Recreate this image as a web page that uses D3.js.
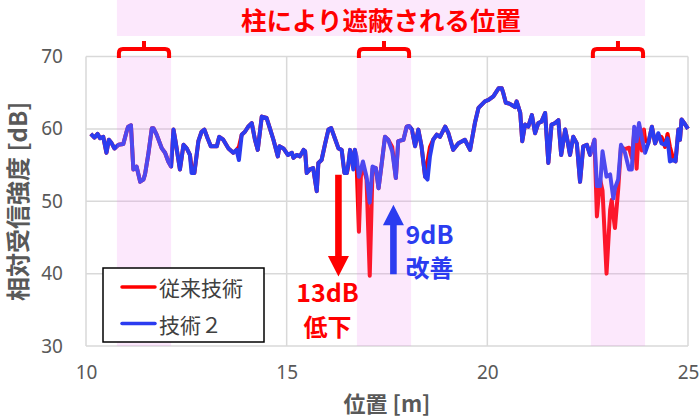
<!DOCTYPE html>
<html><head><meta charset="utf-8">
<script src="https://cdn.jsdelivr.net/npm/d3@7"></script>
<style>
html,body{margin:0;padding:0;background:#fff;}
svg{display:block;font-family:"Noto Sans CJK JP","Noto Sans",sans-serif;}
</style></head>
<body><svg id="c" width="700" height="417"></svg>
<script>
// ---- data ----
const positions = [10.12,10.21,10.29,10.35,10.43,10.51,10.57,10.64,10.71,10.81,10.93,11.01,11.05,11.12,11.18,11.26,11.35,11.43,11.47,11.55,11.64,11.68,11.76,11.89,11.97,12.05,12.12,12.18,12.23,12.34,12.43,12.51,12.59,12.63,12.70,12.80,12.88,12.95,13.03,13.11,13.26,13.32,13.42,13.55,13.67,13.75,13.81,13.88,13.96,14.04,14.13,14.21,14.28,14.38,14.50,14.58,14.67,14.78,14.82,14.92,15.03,15.13,15.17,15.25,15.33,15.42,15.46,15.50,15.58,15.66,15.75,15.79,15.87,15.96,16.04,16.11,16.20,16.29,16.37,16.44,16.50,16.54,16.58,16.62,16.66,16.70,16.74,16.80,16.85,16.90,16.99,17.07,17.14,17.22,17.29,17.37,17.45,17.53,17.63,17.72,17.78,17.91,17.99,18.05,18.12,18.20,18.28,18.36,18.45,18.51,18.57,18.65,18.74,18.82,18.95,19.03,19.15,19.28,19.44,19.57,19.69,19.78,19.94,20.03,20.15,20.28,20.36,20.40,20.46,20.54,20.61,20.69,20.73,20.77,20.82,20.87,20.94,21.02,21.11,21.19,21.27,21.35,21.44,21.52,21.60,21.69,21.77,21.84,21.94,22.00,22.06,22.14,22.23,22.31,22.39,22.48,22.56,22.67,22.73,22.81,22.87,22.97,23.06,23.10,23.14,23.18,23.26,23.33,23.43,23.53,23.60,23.66,23.72,23.78,23.85,23.90,23.93,24.01,24.10,24.18,24.26,24.34,24.43,24.49,24.55,24.64,24.69,24.76,24.80,24.84,24.93,25.00];
const tech2 = [59.3,58.8,59.3,58.7,58.9,56.7,58.5,58.0,57.3,57.8,57.9,59.6,60.3,60.5,54.4,54.8,52.7,53.0,53.7,56.4,60.1,60.1,59.2,57.3,56.7,55.5,54.8,59.9,58.3,54.4,57.8,57.3,56.4,53.9,53.9,58.3,59.6,59.9,58.7,57.6,57.6,58.9,58.5,57.3,56.7,57.1,55.7,59.2,59.6,60.3,60.8,58.5,57.1,61.7,61.5,60.1,58.5,56.2,57.6,57.3,56.4,56.7,56.0,56.4,56.2,57.1,56.9,53.9,54.4,54.6,51.4,55.3,55.7,58.0,59.9,60.1,58.7,57.3,57.1,53.9,53.9,55.3,57.1,56.2,54.4,57.1,56.2,53.4,54.4,55.5,53.4,49.8,54.8,54.6,51.8,55.3,58.9,58.5,56.9,53.2,58.3,58.5,60.3,60.4,59.9,57.6,59.9,57.6,53.4,53.0,56.2,58.5,59.2,58.9,60.3,59.4,57.1,58.0,58.5,57.1,60.8,62.9,63.8,64.0,64.5,65.6,65.6,64.9,63.6,63.5,63.3,63.0,63.8,63.1,62.2,58.3,60.6,60.3,61.9,59.4,60.8,61.0,62.2,55.3,60.6,60.8,61.2,56.4,59.9,58.3,56.4,58.9,58.0,52.7,57.6,57.8,56.4,58.5,52.1,52.1,56.9,53.4,53.7,52.0,50.4,51.8,53.0,57.8,56.7,54.4,54.4,60.3,58.3,60.8,58.7,57.5,56.7,58.0,60.3,58.0,59.4,58.0,57.8,58.7,55.5,55.7,55.5,59.9,58.5,61.3,60.6,60.0];
const conventional = [59.3,58.8,59.3,58.7,58.9,56.7,58.5,58.0,57.3,57.8,57.9,59.6,60.3,60.5,54.4,54.8,52.7,53.0,53.7,56.4,60.1,60.1,59.2,57.3,56.7,55.5,54.8,59.9,58.3,54.4,57.8,57.3,56.4,54.8,53.9,58.3,59.6,59.9,58.7,57.6,57.6,58.9,58.5,57.3,56.7,57.1,57.5,59.2,59.6,60.3,60.8,58.5,57.1,61.7,61.5,60.1,58.5,56.2,57.6,57.3,56.4,56.7,56.0,56.4,56.2,57.1,56.9,53.9,54.4,54.6,51.4,55.3,55.7,58.0,59.9,60.1,58.7,57.3,57.1,53.9,53.9,55.0,57.1,56.2,55.0,57.1,55.5,45.8,53.5,55.0,53.0,39.7,54.5,54.6,51.8,55.3,58.9,58.5,57.5,53.2,58.3,58.5,60.3,60.4,59.9,57.6,59.9,57.6,53.4,55.5,57.5,58.5,59.2,58.9,60.3,59.4,57.1,58.0,58.5,57.1,60.8,62.9,63.8,64.0,64.5,65.6,65.6,64.9,63.6,63.5,63.3,63.0,63.8,63.1,62.2,58.3,60.6,60.3,61.9,59.4,60.8,61.0,62.2,55.3,60.6,60.8,61.2,56.4,59.9,58.3,56.4,58.9,58.0,52.7,57.6,57.8,56.4,58.5,47.9,53.0,51.5,40.0,48.8,50.2,48.0,46.3,51.6,57.5,57.2,57.4,56.0,59.5,54.5,60.5,57.0,59.9,58.5,58.0,60.3,58.0,59.0,58.9,57.5,59.3,57.5,55.7,55.5,59.9,58.5,61.3,60.6,60.0];
const xTicks = [10,15,20,25];
const yTicks = [30,40,50,60,70];
const shadeStart = [10.77,16.75,22.58];
const shadeEnd = [12.12,18.10,23.93];
const seriesNames = ["従来技術","技術２"];
const titleText = "柱により遮蔽される位置";
const xTitle = "位置 [m]";
const yTitle = "相対受信強度 [dB]";
const dropLabel = ["13dB","低下"];
const gainLabel = ["9dB","改善"];

// ---- drawing ----
const svg = d3.select("#c");
const x = d3.scaleLinear().domain([10,25]).range([86,688]);
const y = d3.scaleLinear().domain([30,70]).range([346,56.5]);
const RED = "#ff0000", BLUE = "#2b3cf0", GRID = "#d9d9d9", TXT = "#595959";

// grid
svg.append("g").selectAll("line").data(yTicks).join("line")
  .attr("x1",x(10)).attr("x2",x(25)).attr("y1",d=>y(d)).attr("y2",d=>y(d))
  .attr("stroke",GRID).attr("stroke-width",1.5);
svg.append("g").selectAll("line").data(xTicks).join("line")
  .attr("y1",y(30)).attr("y2",y(70)).attr("x1",d=>x(d)).attr("x2",d=>x(d))
  .attr("stroke",GRID).attr("stroke-width",1.5);

// axes labels via d3 axes
const xAxis = svg.append("g").attr("transform",`translate(0,${y(30)})`)
  .call(d3.axisBottom(x).tickValues(xTicks).tickSize(0).tickPadding(20));
xAxis.select(".domain").remove();
xAxis.selectAll("text").attr("font-size",19).attr("fill",TXT).attr("font-family","'Noto Sans',sans-serif");
const yAxis = svg.append("g").attr("transform",`translate(${x(10)},0)`)
  .call(d3.axisLeft(y).tickValues(yTicks).tickSize(0).tickPadding(23));
yAxis.select(".domain").remove();
yAxis.selectAll("text").attr("font-size",19).attr("fill",TXT).attr("font-family","'Noto Sans',sans-serif");

// lines
const line = d3.line().x((d,i)=>x(positions[i])).y(d=>y(d));
svg.append("path").datum(conventional).attr("d",line).attr("fill","none")
  .attr("stroke",RED).attr("stroke-width",4).attr("stroke-linejoin","round");
svg.append("path").datum(tech2).attr("d",line).attr("fill","none")
  .attr("stroke",BLUE).attr("stroke-width",4).attr("stroke-linejoin","round");

// shaded bands (overlay)
const bands = shadeStart.map((s,i)=>[s,shadeEnd[i]]);
svg.append("g").selectAll("rect").data(bands).join("rect")
  .attr("x",d=>x(d[0])).attr("width",d=>x(d[1])-x(d[0]))
  .attr("y",y(70)).attr("height",y(30)-y(70))
  .attr("fill","#ee82ee").attr("fill-opacity",0.18);

// title band
svg.append("rect").attr("x",x(shadeStart[0])).attr("width",x(shadeEnd[2])-x(shadeStart[0]))
  .attr("y",0).attr("height",36).attr("fill","#ee82ee").attr("fill-opacity",0.18);
svg.append("text").attr("x",(x(shadeStart[0])+x(shadeEnd[2]))/2).attr("y",18)
  .attr("text-anchor","middle").attr("dominant-baseline","central")
  .attr("font-size",25.5).attr("font-weight","bold").attr("fill",RED).text(titleText);

// brackets
svg.append("g").selectAll("path").data(bands).join("path")
  .attr("d",d=>{const a=x(d[0])+2,b=x(d[1])-2,m=(a+b)/2,yt=49,yb=58,r=4;
    return `M${a},${yb} L${a},${yt+r} Q${a},${yt} ${a+r},${yt} L${b-r},${yt} Q${b},${yt} ${b},${yt+r} L${b},${yb} M${m},${yt} L${m},41`;})
  .attr("fill","none").attr("stroke",RED).attr("stroke-width",4);

// arrows
function arrow(xc, yFrom, yTo, color){
  const dir = yTo>yFrom?1:-1, hw=10.5, sw=3.3, hl=20.5;
  const yb = yTo - dir*hl;
  return svg.append("path").attr("fill",color)
    .attr("d",`M${xc-sw},${yFrom} L${xc+sw},${yFrom} L${xc+sw},${yb} L${xc+hw},${yb} L${xc},${yTo} L${xc-hw},${yb} L${xc-sw},${yb} Z`);
}
arrow(x(16.29), y(53.65), y(39.6), RED);
arrow(x(17.66), y(39.9), y(49.5), BLUE);

svg.append("text").attr("x",327.5).attr("y",302).attr("text-anchor","middle")
  .attr("font-size",25).attr("font-weight","bold").attr("fill",RED).text(dropLabel[0]);
svg.append("text").attr("x",327.5).attr("y",325).attr("dominant-baseline","central").attr("text-anchor","middle")
  .attr("font-size",24).attr("font-weight","bold").attr("fill",RED).text(dropLabel[1]);
svg.append("text").attr("x",429.5).attr("y",244).attr("text-anchor","middle")
  .attr("font-size",25).attr("font-weight","bold").attr("fill",BLUE).text(gainLabel[0]);
svg.append("text").attr("x",429.5).attr("y",266).attr("dominant-baseline","central").attr("text-anchor","middle")
  .attr("font-size",24).attr("font-weight","bold").attr("fill",BLUE).text(gainLabel[1]);

// legend
const lg = svg.append("g");
lg.append("rect").attr("x",103).attr("y",268).attr("width",161).attr("height",74)
  .attr("fill","#fff").attr("stroke","#000").attr("stroke-width",1.5);
[RED,BLUE].forEach((c,i)=>{
  const yy = 287 + i*36.5;
  lg.append("line").attr("x1",122).attr("x2",155).attr("y1",yy).attr("y2",yy)
    .attr("stroke",c).attr("stroke-width",3.5).attr("stroke-linecap","round");
  lg.append("text").attr("x",159).attr("y",yy).attr("dominant-baseline","central")
    .attr("font-size",21).attr("fill","#404040").text(seriesNames[i]);
});

// axis titles
svg.append("text").attr("x",387).attr("y",402).attr("text-anchor","middle").attr("dominant-baseline","central")
  .attr("font-size",22).attr("font-weight","bold").attr("fill",TXT).text(xTitle);
svg.append("text").attr("transform",`translate(16,${(y(30)+y(70))/2}) rotate(-90)`)
  .attr("text-anchor","middle").attr("dominant-baseline","central")
  .attr("font-size",24).attr("font-weight","bold").attr("fill",TXT).text(yTitle);
</script></body></html>
